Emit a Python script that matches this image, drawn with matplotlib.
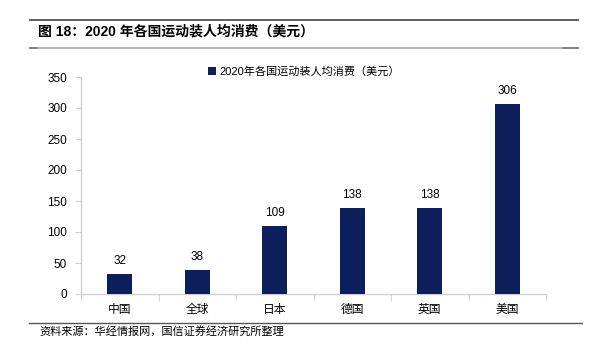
import matplotlib
matplotlib.use("Agg")
import matplotlib.pyplot as plt
from matplotlib.lines import Line2D
import numpy as np

plt.rcParams['font.family'] = ['Liberation Sans', 'Noto Sans CJK SC', 'DejaVu Sans']

categories = ["中国", "全球", "日本", "德国", "英国", "美国"]
values = [32, 38, 109, 138, 138, 306]
series_name = "2020年各国运动装人均消费（美元）"
title = "图 18：2020 年各国运动装人均消费（美元）"
source = "资料来源：华经情报网，国信证券经济研究所整理"
yticks = [0, 50, 100, 150, 200, 250, 300, 350]

W, H = 595, 352
fig = plt.figure(figsize=(W / 100, H / 100), dpi=100)

def fx(px):
    return px / W

def fy(py):
    return 1 - py / H

# header rules
fig.add_artist(Line2D([fx(30), fx(578)], [fy(19.5), fy(19.5)], color="#555555", lw=1.3))
fig.add_artist(Line2D([fx(30), fx(578)], [fy(48), fy(48)], color="#b0b0b0", lw=1.3))
fig.add_artist(Line2D([fx(30), fx(37)], [fy(48), fy(48)], color="#808080", lw=1.3))
fig.add_artist(Line2D([fx(563), fx(578)], [fy(48), fy(48)], color="#808080", lw=1.3))
fig.text(fx(38), fy(31), title, fontsize=10, fontweight="bold", va="center", ha="left", color="black")

# footer
fig.add_artist(Line2D([fx(29), fx(582)], [fy(323), fy(323)], color="#555555", lw=1.0))
fig.text(fx(39), fy(331), source, fontsize=8, va="center", ha="left", color="black")

ax = fig.add_axes([fx(81), fy(294), fx(546) - fx(81), fy(77) - fy(294)])
x = np.arange(len(categories))
bars = ax.bar(x, values, width=0.32, color="#0c1f5c", label=series_name, zorder=3)
ax.set_xlim(-0.5, len(categories) - 0.5)
ax.set_ylim(0, 350)
ax.set_yticks(yticks)
ax.set_yticklabels([str(v) for v in yticks], fontsize=8.5)
ax.set_xticks(x)
ax.set_xticklabels(categories, fontsize=8.5)
ax.set_xticks(np.arange(len(categories) + 1) - 0.5, minor=True)
ax.tick_params(axis="x", which="major", length=0, pad=7)
ax.tick_params(axis="x", which="minor", length=5, color="#d0d0d0", direction="out")
ax.tick_params(axis="y", length=4, color="#d0d0d0", pad=6)
for s in ["top", "right"]:
    ax.spines[s].set_visible(False)
for s in ["left", "bottom"]:
    ax.spines[s].set_color("#d0d0d0")
    ax.spines[s].set_linewidth(1.0)

for xi, v in zip(x, values):
    ax.annotate(str(v), (xi, v), xytext=(0, 5), textcoords="offset points",
                ha="center", va="bottom", fontsize=8.5)

leg = ax.legend(loc="upper center", frameon=False,
                fontsize=8, handlelength=0.7, handleheight=0.7, handletextpad=0.3)
leg.set_bbox_to_anchor((fx(304), fy(56)), transform=fig.transFigure)

fig.savefig("out.png", dpi=100)
